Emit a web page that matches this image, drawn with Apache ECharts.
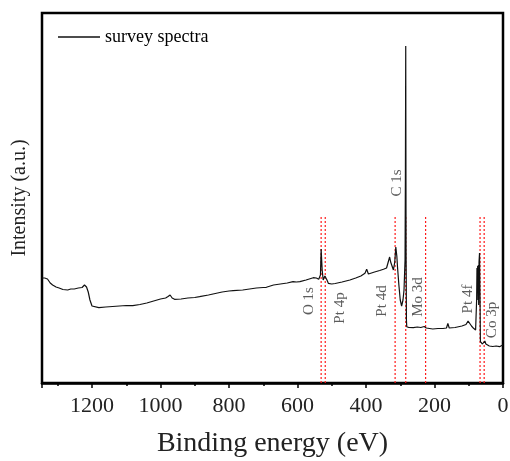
<!DOCTYPE html>
<html>
<head>
<meta charset="utf-8">
<script src="https://cdn.jsdelivr.net/npm/echarts@6/dist/echarts.min.js"></script>
<style>
    html, body { margin: 0; padding: 0; background: #fff; }
    #main { width: 510px; height: 461px; }
</style>
</head>
<body>
<div id="main"></div>
<script>
// binding energy (eV) and intensity (a.u.)
var energy = [1346, 1338, 1330, 1322, 1315, 1305, 1296, 1285, 1271, 1262, 1252, 1240, 1229, 1222, 1216, 1211, 1206, 1200, 1196,
    1180, 1160, 1140, 1120, 1100, 1081, 1060, 1040, 1020, 1000, 985, 978, 972, 966, 959, 940, 920, 900, 886, 860, 840, 820,
    800, 788, 760, 740, 720, 700, 691, 670, 650, 630, 613, 608, 603, 593, 575, 554, 545, 538, 533, 531, 528, 525, 520, 517,
    514, 510, 500, 490, 470, 447, 430, 415, 403, 398, 393, 375, 360, 349, 340, 335, 331, 328, 325, 320, 316, 313, 310, 308,
    304, 300, 296, 292, 289, 286, 285, 284, 283, 282, 281, 275, 262, 250, 240, 230, 227, 224, 220, 205, 190, 175, 165, 161,
    157, 140, 120, 108, 102, 97, 92, 86, 80, 77, 76, 75, 74, 73, 72, 71, 70, 68.5, 67, 66, 63, 60, 56, 53, 50, 45, 40, 30,
    20, 10, 5, 1];
var intensity = [105, 105, 104, 100, 98, 96, 95, 93.5, 93, 94, 94, 95, 95.5, 98, 96, 91, 83, 77, 75.5,
    75.3, 76, 76.5, 77, 77.5, 77.3, 78.5, 80, 82, 84, 85, 86.5, 88, 85, 83.7, 84, 85, 85.5, 86.3, 88, 89.5, 91,
    92, 92.3, 93, 94, 95, 95.5, 95.7, 98, 99, 100, 101.3, 103, 101, 101.3, 103, 105.3, 105, 103.7, 108, 134, 113, 103, 107, 109,
    103, 99.7, 99, 99.5, 101, 103, 105, 107, 109.7, 113.7, 109, 111, 112.5, 113.7, 115, 116.3, 126, 121, 118, 113, 121, 136, 127, 116,
    98, 83, 77, 83, 93, 123, 203, 337, 133, 63, 56.3, 55.5, 55.3, 56, 55.5, 56.5, 58, 55, 53.7, 54, 54.5, 54.5, 55, 59.7,
    55, 55.5, 57, 58.5, 62, 60, 57, 54.7, 53, 83, 115, 93, 117, 83, 118, 78, 121, 130, 83, 41.3, 40, 39, 40, 42, 39, 37, 37, 36.5,
    37, 36.3, 37, 38];

// reference lines (eV) and their top (a.u.)
var refLines = [531, 519, 315, 284, 226, 67, 55];
var refTop = 167;

// peak labels: energy, intensity, text
var peakEnergy = [566, 476, 354, 310, 247, 101, 32];
var peakLevel = [82, 75, 82, 200, 86, 84, 63];
var peakNames = ['O 1s', 'Pt 4p', 'Pt 4d', 'C 1s', 'Mo 3d', 'Pt 4f', 'Co 3p'];

var xTicks = { min: 0, max: 1346, interval: 200 };

var serif = '"Liberation Serif", "Times New Roman", serif';

var chart = echarts.init(document.getElementById('main'));

var lineData = energy.map(function (e, i) { return [e, intensity[i]]; });
var labelData = peakEnergy.map(function (e, i) { return [e, peakLevel[i], peakNames[i]]; });

// one dotted red series per reference line
var refSeries = refLines.map(function (e) {
    return {
        type: 'line',
        data: [[e, 0], [e, refTop]],
        symbol: 'none',
        silent: true,
        z: 2,
        lineStyle: { color: '#ff1a1a', type: [2, 2], width: 1.2 },
        itemStyle: { color: '#ff1a1a' }
    };
});

var option = {
    animation: false,
    grid: {
        left: 42,
        right: 7,
        top: 13,
        bottom: 78,
        outerBoundsMode: 'none',
        containLabel: false,
        show: true,
        borderColor: '#000',
        borderWidth: 2.5
    },
    legend: {
        left: 53,
        top: 23,
        itemWidth: 42,
        itemHeight: 14,
        itemGap: 6,
        textStyle: { fontFamily: serif, fontSize: 18, color: '#000' },
        data: [{ name: 'survey spectra', icon: 'path://M0,0 L42,0 L42,1.3 L0,1.3 Z' }]
    },
    xAxis: {
        type: 'value',
        inverse: true,
        min: xTicks.min,
        max: xTicks.max,
        interval: xTicks.interval,
        name: 'Binding energy (eV)',
        nameLocation: 'middle',
        nameGap: 47,
        nameTextStyle: { fontFamily: serif, fontSize: 28, color: '#222' },
        axisLine: { show: true, lineStyle: { color: '#000', width: 2.5 } },
        axisTick: { show: true, length: 5, lineStyle: { color: '#000', width: 1.5 } },
        minorTick: { show: true, splitNumber: 2, length: 3, lineStyle: { color: '#000', width: 1.5 } },
        axisLabel: {
            fontFamily: serif, fontSize: 22, color: '#222', margin: 12,
            showMaxLabel: false,
            formatter: function (v) { return String(v); }
        },
        splitLine: { show: false }
    },
    yAxis: {
        type: 'value',
        min: 0,
        max: 370,
        name: 'Intensity (a.u.)',
        nameLocation: 'middle',
        nameGap: 12,
        nameTextStyle: { fontFamily: serif, fontSize: 20, color: '#222' },
        axisLine: { show: false },
        axisTick: { show: false },
        axisLabel: { show: false },
        splitLine: { show: false }
    },
    series: [{
        name: 'survey spectra',
        type: 'line',
        data: lineData,
        symbol: 'none',
        lineStyle: { color: '#111', width: 1.2 },
        itemStyle: { color: '#111' },
        z: 3
    }, {
        name: 'peaks',
        type: 'scatter',
        data: labelData,
        symbolSize: 0,
        silent: true,
        label: {
            show: true,
            position: 'inside',
            rotate: 90,
            align: 'center',
            verticalAlign: 'middle',
            fontFamily: serif,
            fontSize: 15,
            color: '#333',
            formatter: function (p) { return p.data[2]; }
        }
    }].concat(refSeries)
};
chart.setOption(option);
</script>
</body>
</html>
